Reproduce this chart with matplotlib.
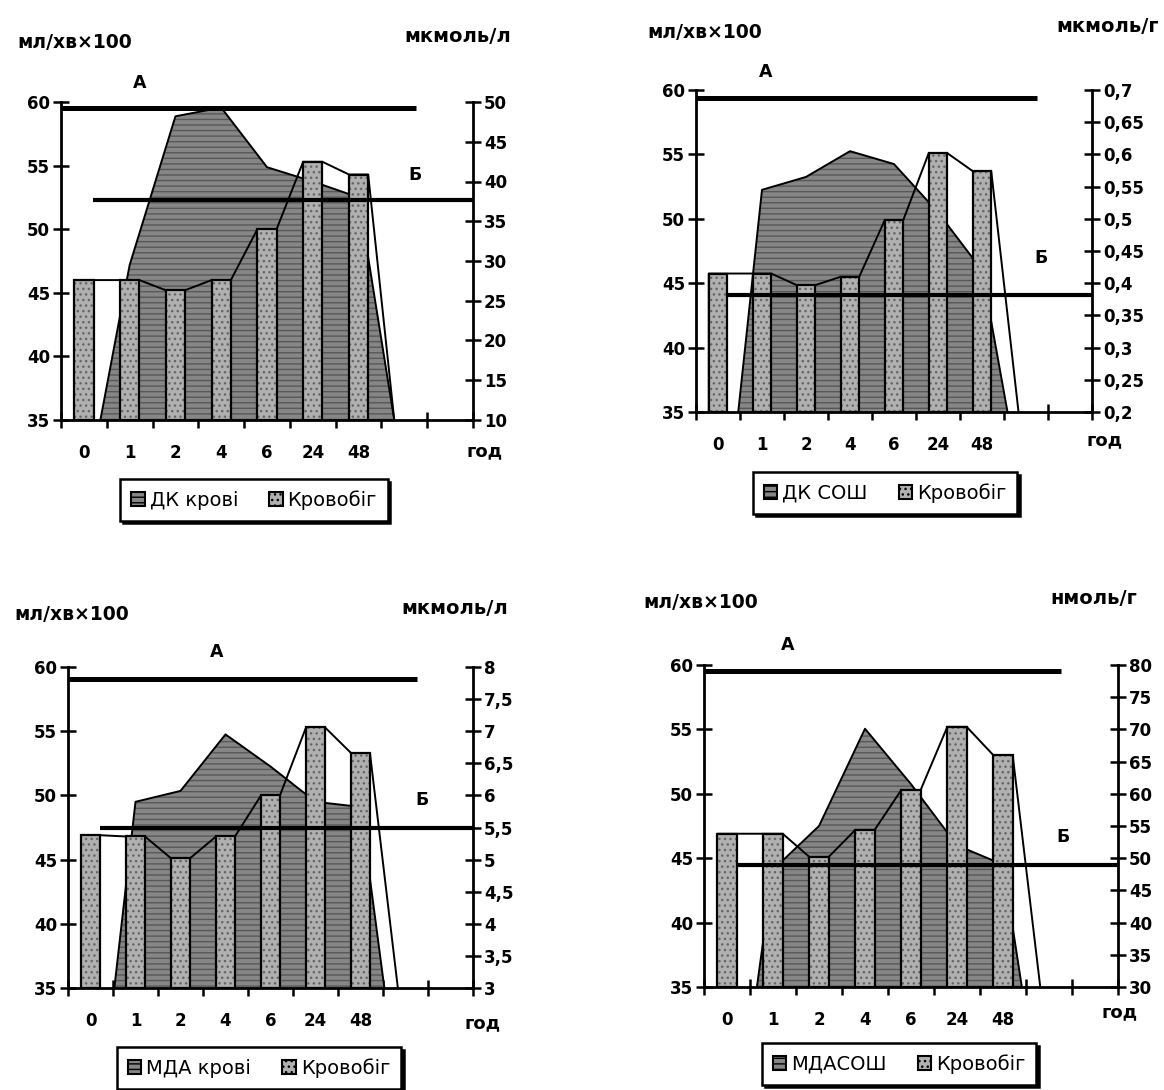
import numpy as np
import matplotlib
matplotlib.use('Agg')
import matplotlib.pyplot as plt
from matplotlib.patches import Patch

plt.rcParams['font.family'] = ['DejaVu Sans']
plt.rcParams['hatch.linewidth'] = 1.0

W, H = 1164, 1090

hours = ['0', '1', '2', '4', '6', '24', '48']

# blood flow, ml/min x 100 (left axis), one value per hour
flow_dk_blood = [46.0, 46.0, 45.2, 46.0, 50.0, 55.3, 54.3]
flow_dk_sosh = [45.75, 45.75, 44.85, 45.5, 49.9, 55.1, 53.7]
flow_mda_blood = [46.9, 46.8, 45.1, 46.8, 50.0, 55.3, 53.3]
flow_mda_sosh = [46.9, 46.9, 45.1, 47.2, 50.3, 55.2, 53.0]

# biochemistry from hour 1 onward (right axis)
dk_blood = [29.5, 48.2, 49.3, 41.8, 40.0, 38.0]
dk_sosh = [0.545, 0.565, 0.605, 0.585, 0.51, 0.42]
mda_blood = [5.9, 6.07, 6.95, 6.45, 5.9, 5.82]
mda_sosh = [48.2, 55.0, 70.1, 61.5, 52.0, 49.0]

# А - blood flow norm (left axis), Б - biochemical norm (right axis)
norm_flow = [59.55, 59.35, 59.1, 59.5]
norm_bio = [37.7, 0.382, 5.5, 49.0]

BAR_W = 0.42
BAR_FACE = '#b0b0b0'
AREA_FACE = '#868686'

panels = [
    dict(box=(61, 473, 102, 420), flow=flow_dk_blood, bio=dk_blood,
         rlim=(10, 50), rstep=5, runit='мкмоль/л', legend='ДК крові',
         lunit_xy=(75, 42), runit_xy=(458, 37), a_xy=(140, 83), b_xy=(415, 175),
         god_xy=(485, 451), leg_xy=(254, 500),
         bio_start=0.64, bio_end=0.78, flow_end=0.78),
    dict(box=(696, 1092, 90, 412), flow=flow_dk_sosh, bio=dk_sosh,
         rlim=(0.2, 0.7), rstep=0.05, runit='мкмоль/г', legend='ДК СОШ',
         lunit_xy=(705, 32), runit_xy=(1108, 27), a_xy=(766, 72), b_xy=(1041, 258),
         god_xy=(1105, 440), leg_xy=(885, 493),
         bio_start=0.54, bio_end=0.58, flow_end=0.83),
    dict(box=(68, 473, 667, 988), flow=flow_mda_blood, bio=mda_blood,
         rlim=(3, 8), rstep=0.5, runit='мкмоль/л', legend='МДА крові',
         lunit_xy=(72, 615), runit_xy=(455, 608), a_xy=(217, 652), b_xy=(422, 800),
         god_xy=(483, 1023), leg_xy=(259, 1068),
         bio_start=0.47, bio_end=0.53, flow_end=0.83),
    dict(box=(704, 1118, 665, 987), flow=flow_mda_sosh, bio=mda_sosh,
         rlim=(30, 80), rstep=5, runit='нмоль/г', legend='МДАСОШ',
         lunit_xy=(701, 603), runit_xy=(1094, 598), a_xy=(788, 645), b_xy=(1063, 837),
         god_xy=(1120, 1012), leg_xy=(899, 1064),
         bio_start=0.35, bio_end=0.41, flow_end=0.81),
]


def fx(x):
    return x / W


def fy(y):
    return 1 - y / H


def fmt(v):
    return f'{round(v, 3):g}'.replace('.', ',')


def draw_panel(fig, p, n_flow, n_bio):
    x0, x1, yt, yb = p['box']
    ax = fig.add_axes([fx(x0), fy(yb), (x1 - x0) / W, (yb - yt) / H])
    ax.set_xlim(-0.5, 8.5)
    ax.set_ylim(35, 60)
    lo, hi = p['rlim']

    def to_right(y):
        return lo + (np.asarray(y) - 35) * (hi - lo) / 25

    def to_left(v):
        return 35 + (np.asarray(v) - lo) * 25 / (hi - lo)

    idx = np.arange(len(hours))
    flow = np.array(p['flow'])

    # blood flow envelope running over the bar tops
    ex = [idx[0] - BAR_W / 2]
    ey = [35]
    for i, v in zip(idx, flow):
        ex += [i - BAR_W / 2, i + BAR_W / 2]
        ey += [v, v]
    ex.append(idx[-1] + p['flow_end'])
    ey.append(35)
    ax.fill(ex, ey, facecolor='white', edgecolor='none', zorder=1)

    # biochemical series as a shaded area on the right scale
    bidx = idx[1:]
    bx = [bidx[0] - p['bio_start']] + list(bidx) + [bidx[-1] + p['bio_end']]
    by = to_left([lo] + list(p['bio']) + [lo])
    ax.fill(bx, by, facecolor=AREA_FACE, edgecolor='#585858', hatch='---',
            linewidth=0, zorder=2)
    ax.plot(bx, by, color='black', lw=1.4, zorder=2.5)

    ax.plot(ex, ey, color='black', lw=1.4, zorder=3)

    ax.bar(idx, flow - 35, bottom=35, width=BAR_W, color=BAR_FACE,
           edgecolor='#666666', hatch='...', linewidth=0, zorder=4)
    ax.bar(idx, flow - 35, bottom=35, width=BAR_W, fill=False,
           edgecolor='black', linewidth=1.6, zorder=4.5)

    # norm levels
    ax.plot([-0.5, 7.25], [n_flow, n_flow], color='black', lw=3.6,
            solid_capstyle='butt', zorder=6)
    nb = float(to_left(n_bio))
    ax.plot([0.2, 8.5], [nb, nb], color='black', lw=3.0,
            solid_capstyle='butt', zorder=6)

    for side in ('top', 'right'):
        ax.spines[side].set_visible(False)
    for side in ('left', 'bottom'):
        ax.spines[side].set_linewidth(2)

    ax.set_xticks(np.arange(-0.5, 9, 1))
    ax.set_xticklabels([])
    ax.set_xticks(idx, minor=True)
    ax.set_xticklabels(hours, minor=True, fontsize=12, fontweight='bold')
    ax.tick_params(axis='x', which='major', direction='inout', length=11, width=1.8)
    ax.tick_params(axis='x', which='minor', length=0, pad=17)

    ax.set_yticks(np.arange(35, 61, 5))
    ax.set_yticklabels([str(v) for v in range(35, 61, 5)], fontsize=12, fontweight='bold')
    ax.tick_params(axis='y', direction='inout', length=12, width=1.8, pad=2)

    sec = ax.secondary_yaxis('right', functions=(to_right, to_left))
    rt = np.arange(lo, hi + p['rstep'] / 2, p['rstep'])
    sec.set_yticks(rt)
    sec.set_yticklabels([fmt(v) for v in rt], fontsize=12, fontweight='bold')
    sec.tick_params(direction='inout', length=12, width=1.8, pad=2)
    sec.spines['right'].set_linewidth(2)

    txt = dict(ha='center', va='center', fontweight='bold')
    fig.text(fx(p['lunit_xy'][0]), fy(p['lunit_xy'][1]), 'мл/хв×100', fontsize=13.5, **txt)
    fig.text(fx(p['runit_xy'][0]), fy(p['runit_xy'][1]), p['runit'], fontsize=14, **txt)
    fig.text(fx(p['a_xy'][0]), fy(p['a_xy'][1]), 'А', fontsize=12.5, **txt)
    fig.text(fx(p['b_xy'][0]), fy(p['b_xy'][1]), 'Б', fontsize=12.5, **txt)
    fig.text(fx(p['god_xy'][0]), fy(p['god_xy'][1]), 'год', fontsize=13, **txt)

    handles = [
        Patch(facecolor=AREA_FACE, edgecolor='black', hatch='---', linewidth=1.5),
        Patch(facecolor=BAR_FACE, edgecolor='black', hatch='...', linewidth=1.5),
    ]
    leg = ax.legend(handles, [p['legend'], 'Кровобіг'], loc='center',
                    bbox_to_anchor=(fx(p['leg_xy'][0]), fy(p['leg_xy'][1])),
                    bbox_transform=fig.transFigure, ncol=2, fontsize=14,
                    handlelength=0.7, handleheight=0.7, handletextpad=0.25,
                    columnspacing=1.6, borderpad=0.55, fancybox=False,
                    shadow={'color': 'black', 'alpha': 1}, framealpha=1)
    leg.get_frame().set_edgecolor('black')
    leg.get_frame().set_linewidth(1.8)
    return ax


fig = plt.figure(figsize=(W / 100, H / 100), dpi=100)
for p, nf, nb in zip(panels, norm_flow, norm_bio):
    draw_panel(fig, p, nf, nb)

fig.savefig('out.png', dpi=100, facecolor='white')
